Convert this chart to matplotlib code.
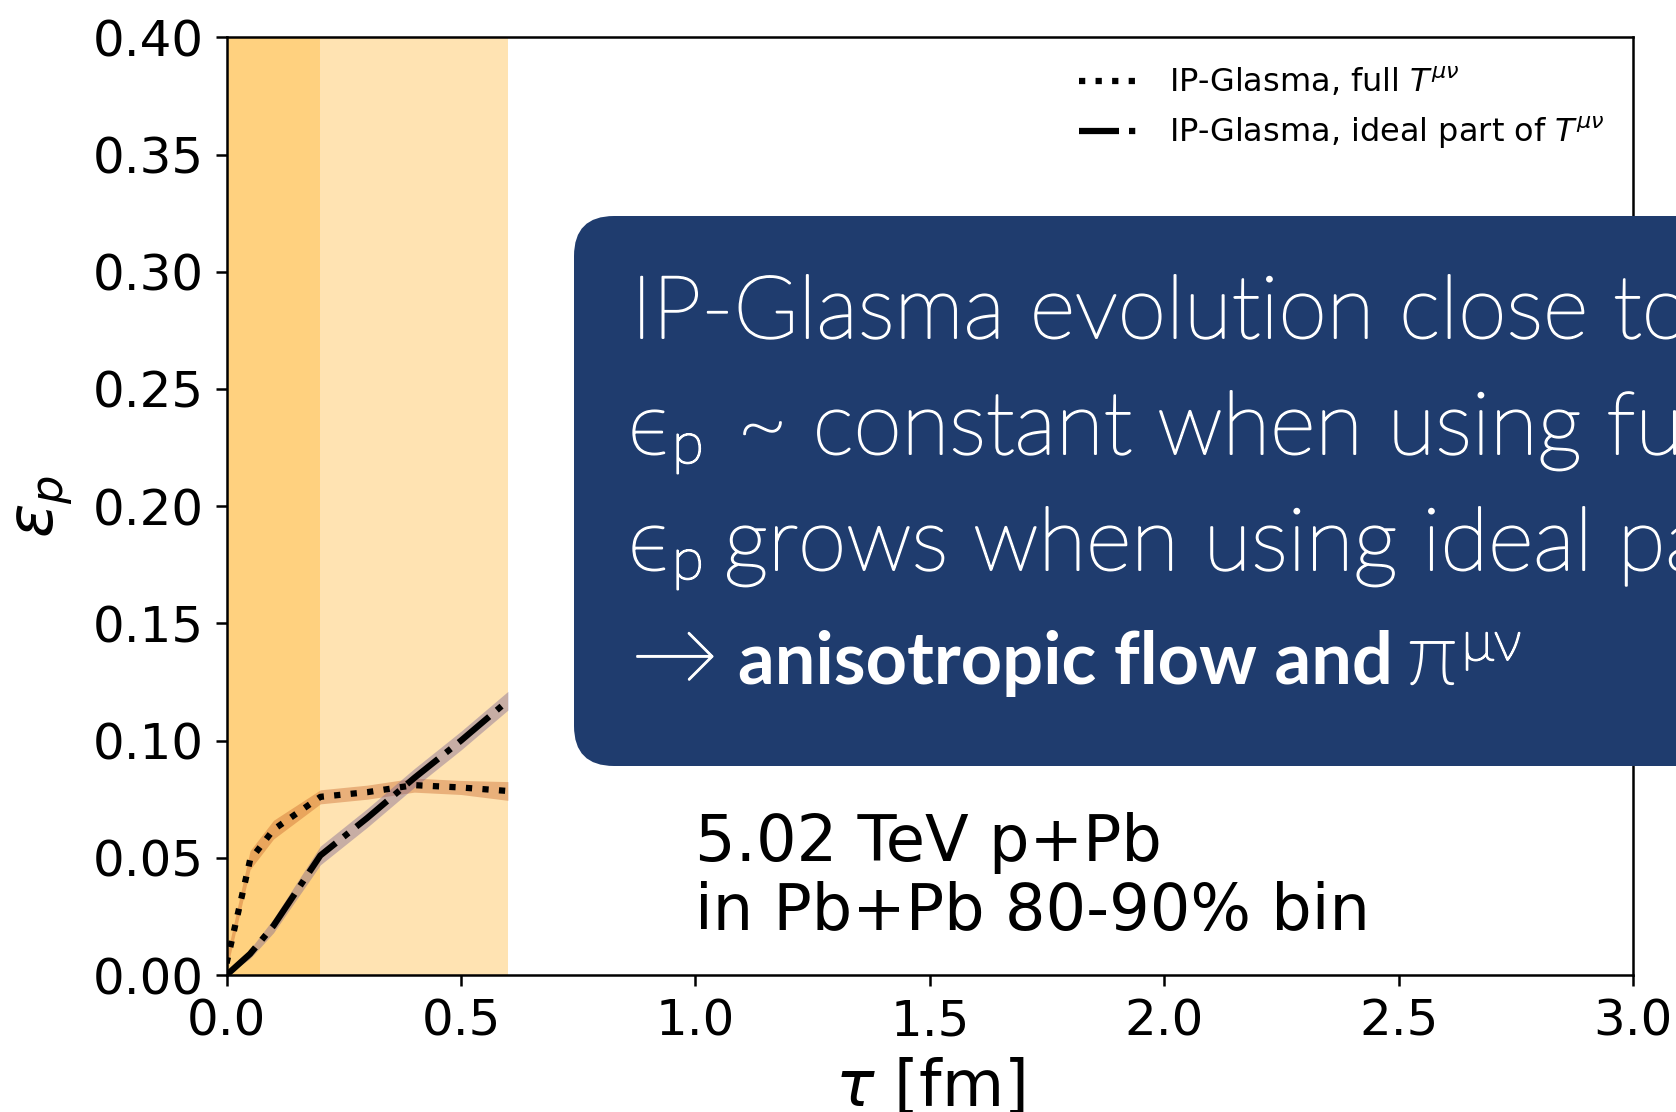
import matplotlib
matplotlib.use('Agg')
import numpy as np
import matplotlib.pyplot as plt
import matplotlib.patheffects as pe
from matplotlib.patches import FancyBboxPatch

# eccentricity of the momentum anisotropy vs proper time
tau = [0.0, 0.05, 0.1, 0.2, 0.3, 0.4, 0.5, 0.6]
eps_full = [0.005, 0.049, 0.062, 0.076, 0.078, 0.081, 0.080, 0.0785]
err_full = [0.003, 0.004, 0.004, 0.003, 0.003, 0.003, 0.003, 0.004]
eps_ideal = [0.0, 0.009, 0.021, 0.051, 0.067, 0.084, 0.100, 0.117]
err_ideal = [0.0, 0.002, 0.003, 0.004, 0.004, 0.004, 0.004, 0.004]

labels = [r'IP-Glasma, full $T^{\mu\nu}$', r'IP-Glasma, ideal part of $T^{\mu\nu}$']
x_ticks = [0.0, 0.5, 1.0, 1.5, 2.0, 2.5, 3.0]
y_ticks = [0.0, 0.05, 0.10, 0.15, 0.20, 0.25, 0.30, 0.35, 0.40]
system = ['5.02 TeV p+Pb', 'in Pb+Pb 80-90% bin']

fig = plt.figure(figsize=(16.76, 11.12), dpi=100)
ax = fig.add_axes([0.1352, 0.1232, 0.8392, 0.8432])

ax.axvspan(0, 0.2, color='orange', alpha=0.5, lw=0)
ax.axvspan(0.2, 0.6, color='orange', alpha=0.3, lw=0)

lo = np.array(eps_full) - np.array(err_full)
hi = np.array(eps_full) + np.array(err_full)
ax.fill_between(tau, lo, hi, color='#c86428', alpha=0.4, lw=0)
lo = np.array(eps_ideal) - np.array(err_ideal)
hi = np.array(eps_ideal) + np.array(err_ideal)
ax.fill_between(tau, lo, hi, color='#755e91', alpha=0.4, lw=0)

ax.plot(tau, eps_full, ':', color='k', lw=4.5, label=labels[0])
ax.plot(tau, eps_ideal, '-.', color='k', lw=4.5, label=labels[1])

ax.set_xlim(0, 3)
ax.set_ylim(0, 0.4)
ax.set_xticks(x_ticks)
ax.set_yticks(y_ticks)
ax.tick_params(labelsize=36, length=8, width=1.8, pad=8)
for s in ax.spines.values():
    s.set_linewidth(1.8)

ax.set_xlabel(r'$\tau$ [fm]', fontsize=46)
ax.set_ylabel(r'$\varepsilon_p$', fontsize=46)
ax.xaxis.set_label_coords(0.5, -0.088)
ax.yaxis.set_label_coords(-0.108, 0.5)

ax.legend(loc='upper right', frameon=False, fontsize=23)

ax.text(1.0, 0.0488, system[0], fontsize=46, va='baseline')
ax.text(1.0, 0.0192, system[1], fontsize=46, va='baseline')

# summary box laid over the plot, in pixel units
over = fig.add_axes([0, 0, 1, 1])
over.set_xlim(0, 1676)
over.set_ylim(1112, 0)
over.axis('off')
over.patch.set_visible(False)
over.add_patch(FancyBboxPatch((574, 216), 1300, 550,
                              boxstyle='round,pad=0,rounding_size=40',
                              fc='#1f3c6e', ec='none'))

fonts = ['Lato', 'DejaVu Sans']
renderer = fig.canvas.get_renderer()
thicken = [pe.withStroke(linewidth=1.4, foreground='white')]


def piece(x, y, s, size=63, weight='light'):
    t = over.text(x, y, s, fontsize=size, fontweight=weight, family=fonts,
                  color='white', ha='left', va='baseline')
    if weight == 'light':
        t.set_path_effects(thicken)
    return t.get_window_extent(renderer).x1


piece(631, 338, 'IP-Glasma evolution close to hydro')

piece(628, 454, '\u03f5')
piece(672, 463, 'p', size=42)
piece(737, 454, '~ constant when using full')

piece(628, 570, '\u03f5')
piece(672, 579, 'p', size=42)
piece(724, 570, 'grows when using ideal part')

piece(631, 684, '\u2192')
x = piece(738, 684, 'anisotropic flow and', size=52, weight='bold')
x = piece(x + 14, 684, '\u03c0')
piece(x + 4, 660, '\u03bc\u03bd', size=40)

fig.savefig('out.png', dpi=100)
